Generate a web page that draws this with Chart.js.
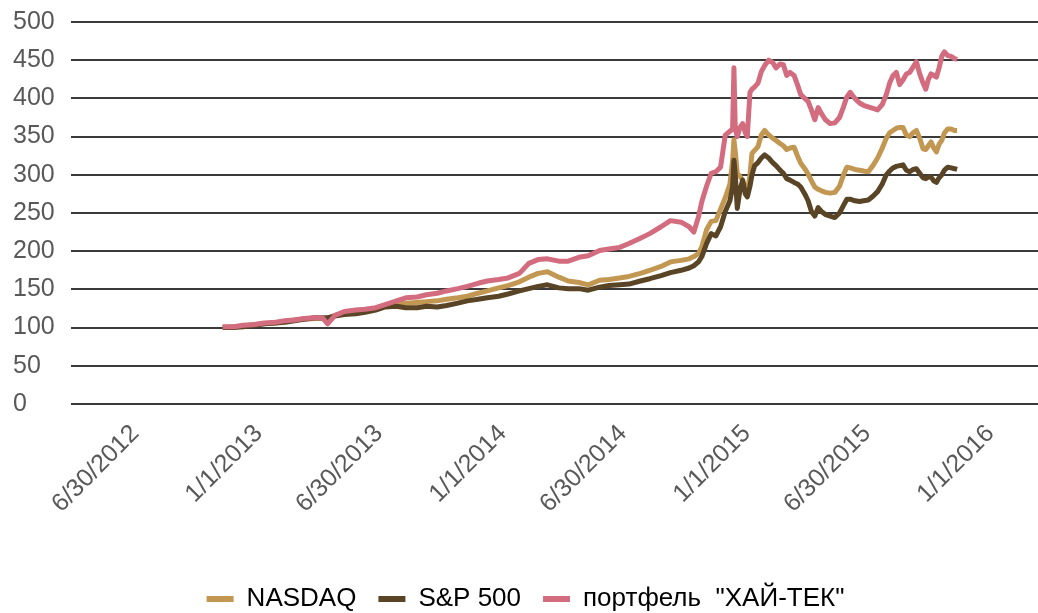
<!DOCTYPE html>
<html><head><meta charset="utf-8">
<script src="https://cdn.jsdelivr.net/npm/chart.js@4.4.1/dist/chart.umd.min.js"></script>
<style>html,body{margin:0;padding:0;background:#fff;overflow:hidden;} #wrap{width:1038px;height:613px;position:relative;}</style>
</head><body><div id="wrap"><canvas id="c"></canvas></div>
<script>
const dates = [
'2012-11-14','2012-12-01','2012-12-15','2013-01-01','2013-01-15','2013-02-01','2013-02-15','2013-03-01','2013-03-15','2013-04-01','2013-04-12','2013-04-20','2013-05-01','2013-05-15','2013-06-01','2013-06-15',
'2013-07-01','2013-07-15','2013-08-01','2013-08-15','2013-09-01','2013-09-15','2013-10-01','2013-10-15','2013-11-01','2013-11-15','2013-12-01','2013-12-15','2014-01-01','2014-01-15','2014-02-01','2014-02-15','2014-03-01','2014-03-15','2014-04-01','2014-04-15','2014-05-01','2014-05-15','2014-06-01','2014-06-15','2014-07-01','2014-07-15','2014-08-01','2014-08-15','2014-09-01','2014-09-15','2014-10-01',
'2014-10-13','2014-10-20','2014-10-27','2014-11-01','2014-11-08','2014-11-15','2014-11-22','2014-11-29','2014-12-06','2014-12-13','2014-12-17','2014-12-19','2014-12-21','2014-12-24','2014-12-28',
'2015-01-01','2015-01-05','2015-01-08','2015-01-12','2015-01-15','2015-01-19','2015-01-24','2015-01-29','2015-02-03','2015-02-09','2015-02-15','2015-02-20','2015-02-26','2015-03-03','2015-03-08','2015-03-13','2015-03-19','2015-03-24',
'2015-03-29','2015-04-04','2015-04-09','2015-04-14','2015-04-19','2015-04-24','2015-04-29','2015-05-05','2015-05-12','2015-05-19','2015-05-26','2015-06-01',
'2015-06-06','2015-06-11','2015-06-18','2015-06-25','2015-07-01','2015-07-08','2015-07-15','2015-07-22','2015-07-29','2015-08-04','2015-08-09','2015-08-14','2015-08-19','2015-08-24','2015-08-29','2015-09-03','2015-09-08','2015-09-13','2015-09-18','2015-09-23','2015-09-28','2015-10-02','2015-10-06','2015-10-10','2015-10-14','2015-10-18','2015-10-22','2015-10-26','2015-10-30','2015-11-04','2015-11-09','2015-11-14','2015-11-18'
];
const nasdaq = [
100,101,102,104,105,106,108,110,111,112,112,112,116,119,121,122,
125,129,131,132,133,134,135,137,139,141,145,148,152,155,160,166,171,173,166,161,159,156,162,163,165,167,171,175,180,186,188,
190,193,197,206,228,239,240,255,270,288,318,346,330,302,298,
293,282,276,300,328,332,337,352,358,352,348,345,341,338,333,335,336,325,
315,308,301,292,284,281,279,277,276,277,285,300,
310,309,307,306,305,304,312,322,335,348,355,358,361,362,362,352,350,355,358,348,334,333,338,343,335,330,340,345,355,360,360,358,358
];
const sp500 = [
100,100,101,103,105,106,107,109,111,113,113,113,115,117,118,120,
123,127,128,126,126,128,127,129,132,135,137,139,141,144,148,151,154,156,152,151,151,149,153,155,156,157,161,164,168,172,175,
178,181,186,193,210,223,220,232,252,266,284,319,300,256,280,
293,275,271,285,300,312,316,322,326,322,316,312,306,302,295,293,290,288,
284,275,266,252,246,257,252,248,246,244,250,260,
268,268,266,265,266,267,272,278,288,300,305,309,311,312,313,306,304,307,308,302,296,295,297,297,292,290,296,300,306,310,309,308,307
];
const hitech = [
101,101,103,104,106,107,109,110,112,113,113,105,116,121,123,124,
126,130,135,139,140,143,145,148,151,154,158,161,163,165,171,184,189,190,187,187,192,194,201,203,205,210,217,223,232,240,238,
232,225,245,265,285,302,304,310,352,357,360,440,360,350,362,
367,355,350,408,412,415,420,435,443,450,447,440,445,444,430,434,430,418,
405,400,396,385,372,388,380,372,367,368,375,389,
402,408,400,394,391,389,387,385,392,405,420,430,434,418,424,432,434,441,448,432,420,412,425,432,430,428,440,455,461,456,455,452,451
];
const tickLabels = ['6/30/2012','1/1/2013','6/30/2013','1/1/2014','6/30/2014','1/1/2015','6/30/2015','1/1/2016'];
const seriesNames = ['NASDAQ','S&P 500','портфель  "ХАЙ-ТЕК"'];
const seriesColors = ['#C29752','#5A4426','#D36C7F'];

function dayNum(iso){const p=iso.split('-').map(Number);return Date.UTC(p[0],p[1]-1,p[2])/86400000;}
function mdyNum(s){const p=s.split('/').map(Number);return Date.UTC(p[2],p[0]-1,p[1])/86400000;}
const xs = dates.map(dayNum);
const toPts = arr => arr.map((v,i)=>({x:xs[i],y:v}));
const allSeries = [nasdaq, sp500, hitech];

const FONT = '"Liberation Sans", Arial, sans-serif';
const FS = 25;
const datasets = allSeries.map((arr,i)=>({
  label: seriesNames[i], data: toPts(arr), borderColor: seriesColors[i], backgroundColor: seriesColors[i],
  borderWidth: 5, pointRadius: 0, tension: 0, borderJoinStyle:'round', order: 2-i
}));

new Chart(document.getElementById('c'), {
  type: 'line',
  data: { datasets },
  options: {
    responsive: true, maintainAspectRatio: false, animation: false,
    layout: { padding: { left: 13, top: 22, right: 0, bottom: 0 } },
    plugins: {
      tooltip: { enabled: false },
      legend: {
        position: 'bottom', maxHeight: 49,
        labels: {
          font: { family: FONT, size: 26 }, color: '#404040', boxWidth: 27, boxHeight: 6, padding: 22,
          generateLabels: (chart) => chart.data.datasets.map((d,i)=>({
            text: d.label, fillStyle: d.borderColor, strokeStyle: d.borderColor, lineWidth: 0, datasetIndex: i, hidden: false
          }))
        }
      }
    },
    scales: {
      x: {
        type: 'linear',
        min: mdyNum(tickLabels[0]) - 90, max: mdyNum(tickLabels[tickLabels.length-1]) + 77,
        grid: { display: false }, border: { display: false },
        afterBuildTicks: (s) => { s.ticks = tickLabels.map(l => ({ value: mdyNum(l) })); },
        afterFit: (s) => { s.height = 160; },
        ticks: {
          autoSkip: false, minRotation: 45, maxRotation: 45, padding: 7, labelOffset: 4,
          font: { family: FONT, size: FS }, color: '#595959',
          callback: (v) => { const l = tickLabels.find(t => mdyNum(t) === v); return l || ''; }
        }
      },
      y: {
        min: 0, max: 500,
        grid: { color: '#3a3a3a', lineWidth: 2, drawTicks: false }, border: { display: false },
        afterFit: (s) => { s.width = 58; },
        ticks: { stepSize: 50, crossAlign: 'far', padding: 0, font: { family: FONT, size: FS }, color: '#595959' }
      }
    }
  }
});
</script></body></html>
